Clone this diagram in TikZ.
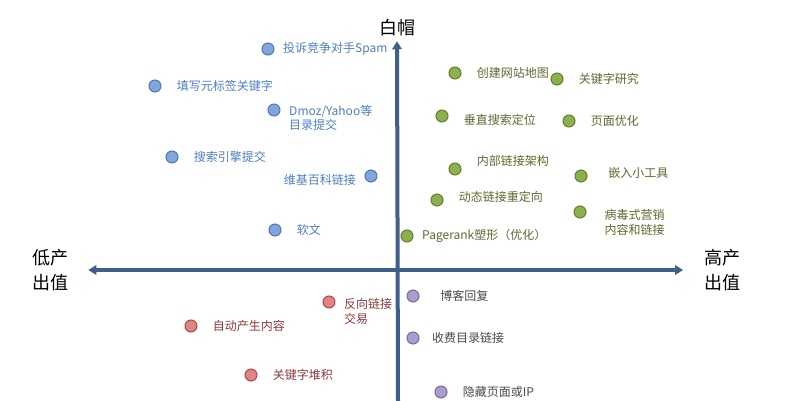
\documentclass[tikz,border=0pt]{standalone}
\usepackage{fontspec}
\newfontfamily\cjk{Noto Sans CJK SC}
\usepackage{xcolor}
\usepackage{tikz}
\usetikzlibrary{arrows.meta, positioning}

\definecolor{axisblue}{HTML}{3D5F8A}
\definecolor{bluefill}{HTML}{82A5DD}
\definecolor{blueedge}{HTML}{4E75B5}
\definecolor{bluetext}{HTML}{4F7EC6}
\definecolor{greenfill}{HTML}{8CB04E}
\definecolor{greenedge}{HTML}{637F2C}
\definecolor{greentext}{HTML}{5B6B2E}
\definecolor{redfill}{HTML}{E08585}
\definecolor{rededge}{HTML}{B04848}
\definecolor{redtext}{HTML}{8E3A3A}
\definecolor{purplefill}{HTML}{AA9CCE}
\definecolor{purpleedge}{HTML}{7B6C9F}
\definecolor{purpletext}{HTML}{4A4A4A}

\begin{document}
\begin{tikzpicture}[x=0.75pt, y=-0.75pt, label distance=3pt,
    every node/.style={font=\cjk\fontsize{9}{11}\selectfont}]
  \tikzset{dot/.style={circle, draw, line width=0.8pt, inner sep=0pt, minimum size=9pt},
    bdot/.style={dot, draw=blueedge, fill=bluefill},
    gdot/.style={dot, draw=greenedge, fill=greenfill},
    rdot/.style={dot, draw=rededge, fill=redfill},
    pdot/.style={dot, draw=purpleedge, fill=purplefill},
    btext/.style={text=bluetext, align=left},
    gtext/.style={text=greentext, align=left},
    rtext/.style={text=redtext, align=left},
    ptext/.style={text=purpletext, align=left},
    axlabel/.style={font=\cjk\fontsize{13.5}{19}\selectfont, inner sep=0pt, align=center},
    axis/.style={draw=axisblue, line width=3pt}}
  \useasboundingbox[fill=white] (0,0) rectangle (803,400);

  % axes
  \node[axlabel] (white) at (397,28) {白帽};
  \node[axlabel] (low) at (50,270) {低产\\出值};
  \node[axlabel] (high) at (722,270) {高产\\出值};
  \coordinate (bottom) at (398,402);
  \draw[axis, -{Triangle[length=6pt, width=7pt]}, shorten >=3.5pt] (bottom) -- (white.south);
  \draw[axis, {Triangle[length=6pt, width=7pt]}-{Triangle[length=6pt, width=7pt]},
    shorten <=15pt, shorten >=15.5pt] (low) -- (high);

  % blue
  \node[bdot, label={[btext]right:投诉竞争对手Spam}] (spam) at (268,49) {};
  \node[bdot, label={[btext, label distance=8pt]right:填写元标签关键字}] (meta) at (155,86) {};
  \node[bdot, label={[btext, yshift=-6pt]right:Dmoz/Yahoo等\\目录提交}] (dmoz) at (274,110) {};
  \node[bdot, label={[btext, label distance=8pt]right:搜索引擎提交}] (submit) at (172,157) {};
  \node[bdot, label={[btext, yshift=-3pt]left:维基百科链接}] (wiki) at (371,176) {};
  \node[bdot, label={[btext, label distance=8pt]right:软文}] (soft) at (275,230) {};

  % green
  \node[gdot, label={[gtext, label distance=8pt]right:创建网站地图}] (sitemap) at (455,73) {};
  \node[gdot, label={[gtext, label distance=8pt]right:关键字研究}] (research) at (557,79) {};
  \node[gdot, label={[gtext, label distance=8pt, yshift=-3pt]right:垂直搜索定位}] (vertical) at (442,116) {};
  \node[gdot, label={[gtext, label distance=8pt]right:页面优化}] (onpage) at (569,121) {};
  \node[gdot, label={[gtext, label distance=8pt, yshift=6pt]right:内部链接架构}] (internal) at (455,169) {};
  \node[gdot, label={[gtext, label distance=12pt, yshift=2pt]right:嵌入小工具}] (widget) at (581,176) {};
  \node[gdot, label={[gtext, label distance=8pt, yshift=2pt]right:动态链接重定向}] (redirect) at (437,200) {};
  \node[gdot, label={[gtext, label distance=10pt, yshift=-8pt]right:病毒式营销\\内容和链接}] (viral) at (580,212) {};
  \node[gdot, label={[gtext]right:Pagerank塑形（优化）}] (pagerank) at (407,236) {};

  % red
  \node[rdot, label={[rtext, yshift=-7pt]right:反向链接\\交易}] (backlink) at (329,302) {};
  \node[rdot, label={[rtext, label distance=8pt]right:自动产生内容}] (auto) at (191,326) {};
  \node[rdot, label={[rtext, label distance=8pt]right:关键字堆积}] (stuffing) at (251,375) {};

  % purple
  \node[pdot, label={[ptext, label distance=12pt]right:博客回复}] (blog) at (413,296) {};
  \node[pdot, label={[ptext, label distance=6pt]right:收费目录链接}] (paid) at (413,338) {};
  \node[pdot, label={[ptext, label distance=8pt]right:隐藏页面或IP}] (hidden) at (441,392) {};
\end{tikzpicture}
\end{document}
